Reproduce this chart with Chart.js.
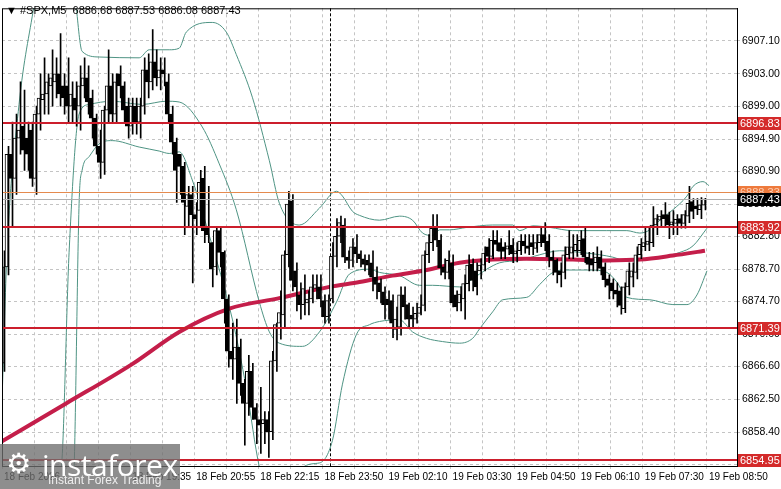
<!DOCTYPE html>
<html><head><meta charset="utf-8">
<script src="https://cdn.jsdelivr.net/npm/chart.js@4.4.1/dist/chart.umd.min.js"></script>
<style>
html,body{margin:0;padding:0;background:#fff;}
#wrap{position:relative;width:781px;height:489px;overflow:hidden;font-family:'Liberation Sans',Arial,sans-serif;}
#hdr{position:absolute;left:6px;top:4px;font-size:11px;color:#000;}
#logo{position:absolute;left:0;top:444px;width:180px;height:45px;background:rgba(110,110,110,0.78);color:#fff;white-space:nowrap;}
#logo .gear{position:absolute;left:6px;top:3px;font-size:28px;font-family:'DejaVu Sans';}
#logo .big{position:absolute;left:42px;top:0px;font-size:30px;letter-spacing:-0.5px;font-family:'Open Sans','Liberation Sans',sans-serif;}
#logo .small{position:absolute;left:48px;top:29px;font-size:12px;color:#eee;}
</style></head><body>
<div id="wrap">
<canvas id="c" width="781" height="489"></canvas>
<div id="hdr">▼ #SPX,M5&nbsp; 6886.68 6887.53 6886.08 6887.43</div>
<div id="logo"><span class="gear">⚙</span><span class="big">instaforex</span><span class="small">Instant Forex Trading</span></div>
</div>
<script>
const opens=[6867,6879,6893,6890,6895,6896.5,6895,6896,6890,6898,6899.8,6900.5,6901.5,6902,6903,6901.5,6901.5,6899,6900,6899,6901.5,6902.5,6900,6897.5,6894,6892,6898.5,6901.5,6898,6903,6901.5,6899,6896.5,6899,6897,6899,6903.5,6902,6904.5,6902.5,6903.5,6902,6898,6894.5,6893,6891.5,6886.5,6888,6885.5,6886,6890,6884,6882,6879,6883.5,6880.8,6875,6868.5,6867.5,6869,6864.5,6862,6866,6861.5,6860,6859.5,6860,6858.5,6867.3,6872,6873,6880.5,6887.2,6878.5,6875.5,6874.3,6874.5,6875,6876.3,6876.5,6874.8,6872.8,6875,6880.3,6882.8,6884.2,6880.2,6879.8,6881.5,6880.6,6880,6879.8,6879.5,6877.7,6877,6875.9,6875,6874.8,6871.2,6871.5,6875.5,6874.3,6873,6872.5,6873.2,6874.2,6880.5,6882,6883.8,6882.3,6879,6878.3,6879.5,6875.5,6874.5,6875,6876.9,6879.3,6878.5,6878.5,6879.2,6881.5,6880.3,6882.3,6882,6881.5,6881.2,6881.7,6880.6,6881,6882.2,6881.6,6882,6881.3,6882,6883,6882.2,6880.2,6879.8,6878.5,6878.3,6880.5,6880.7,6881,6881,6882.5,6880.2,6880,6879.5,6880.2,6879,6877.5,6877,6876.1,6876,6873.8,6876.5,6877.7,6878.3,6880.5,6881.5,6881.8,6882,6884.2,6884.8,6885.5,6885.5,6884.2,6884.4,6885,6884.4,6885.3,6887.1,6886.6,6886.1,6886.68];
const highs=[6881,6894,6897,6898,6902,6901,6897,6897,6899,6903,6905,6903,6906,6905,6908,6903,6905,6902,6902,6904,6905,6904,6901,6898,6896,6899,6906,6903,6903,6904,6902,6900,6900,6900,6900,6905,6905.5,6908.5,6906,6905,6905,6903,6899,6895,6893,6892,6889,6889,6887,6891,6891.5,6889,6882,6884,6884,6881,6875.5,6872,6872.5,6870,6865,6868,6867,6862,6864,6861,6861,6868.5,6872,6876,6881,6888.4,6888,6879.5,6877,6878,6876,6878,6878,6878,6875.5,6875.5,6882,6885,6885.3,6885,6881,6882.5,6883,6881,6880.5,6880.5,6881,6879,6877.5,6876.5,6876,6875.5,6874,6876.5,6876.5,6874.5,6874,6874.5,6875.5,6881,6883,6885.5,6885.5,6883,6880,6881,6880.5,6876,6876.5,6878,6880.5,6880,6879.5,6880,6881.5,6882.5,6883.5,6883.5,6882.5,6882,6883.5,6882.5,6882,6883,6883,6883,6883,6883,6884,6884.5,6883,6881,6880,6879.5,6881.5,6883.5,6883,6883,6883.5,6883.8,6880.8,6880.8,6881.5,6881,6879.5,6878,6877.5,6877,6876.5,6877,6879.5,6879.5,6881.5,6882.5,6884,6883.8,6886.5,6885.5,6886,6887,6885.8,6886,6885.5,6885.5,6886,6889,6887.5,6887.5,6887.6,6887.53];
const lows=[6866,6878,6884,6888,6893,6891,6891,6889,6888,6896,6898,6898,6899,6900,6899,6898,6897,6897,6896.5,6896,6900,6898,6895,6893,6890,6890.5,6897,6897,6897,6900,6897,6895,6895.5,6895.5,6895,6898,6900,6901,6901.5,6901,6901.5,6897,6893,6887,6888,6883,6884,6877,6883,6884,6882,6882,6876.5,6878,6879,6872,6866.5,6865,6862,6863,6856.8,6860.5,6860,6857,6855.8,6857,6855.3,6857.5,6866,6870,6871.5,6879,6876,6873.5,6872.5,6873,6873,6874.5,6875,6874,6872,6872,6874.5,6879,6882,6879.5,6878.8,6879,6879.5,6879,6878.5,6878,6876,6875,6874.5,6872.5,6872.5,6870.2,6869.9,6870.5,6872.5,6871.5,6871.3,6872,6873,6873.5,6879.5,6881,6881.5,6878,6877.5,6877.5,6874,6873.5,6873.5,6872.5,6876,6876,6875.5,6877.5,6878.5,6879.5,6880,6881,6880,6880,6880.5,6879.5,6879.6,6880.5,6880.7,6880.5,6880.5,6880.8,6881.5,6881,6879,6878,6877,6876.5,6877.5,6880,6880,6880.3,6880.5,6879.5,6878.5,6878.5,6878.5,6878,6876.5,6875,6875,6874,6873.1,6873.3,6875.5,6876.5,6877.5,6880,6881,6881,6881.5,6883,6884,6884,6882.5,6883,6883,6883.8,6883.8,6884.5,6885,6885.5,6885,6886.08];
const closes=[6879,6893,6890,6895,6896,6893.5,6893,6890,6898,6900,6900.5,6902,6902.5,6903,6900.5,6900,6899,6900.5,6898.5,6901.5,6902.5,6899.5,6897.5,6894,6892,6898.5,6901.5,6898,6902,6901.5,6898.5,6896.5,6899,6897,6899,6903.5,6902,6904.5,6902.5,6903.5,6903,6898,6894.5,6891,6891.5,6887,6888,6885.5,6885,6889.5,6883.5,6883,6878.7,6883.5,6880.8,6875,6868.5,6867.5,6869,6864.5,6862,6866,6861.5,6860,6859.3,6860,6858.5,6867.3,6871.8,6873.3,6880.5,6886.8,6877.3,6876.5,6874.3,6876.3,6875,6876.5,6876.8,6875,6872.8,6874.8,6880.3,6882.8,6884.5,6880.2,6879.8,6881.5,6880.6,6880,6879.3,6879.2,6877.7,6876.8,6875.9,6874.3,6874.3,6872,6872.5,6875.5,6874,6872.5,6872.5,6873.2,6874,6880.5,6882,6883.8,6882.3,6878.9,6878.3,6879.8,6874.5,6874,6875.6,6876.9,6879.2,6877.3,6876.5,6879.2,6880.7,6880.3,6882.3,6881.8,6880.9,6880.9,6881.6,6880.6,6881,6882.2,6881.6,6881.3,6881.5,6882,6883,6882,6880.2,6879.8,6878.3,6878,6880.5,6881.5,6881.5,6881.8,6882.3,6880.2,6879.3,6879.2,6880.2,6878.8,6877.4,6876.7,6876,6875.6,6874.2,6876.5,6878.5,6878.5,6880.5,6881.8,6882,6882.2,6884.2,6885,6885.3,6885,6884.2,6884.6,6884.9,6884.4,6885.5,6886.9,6885.9,6886.2,6886.7,6887.43];

// Indicator lines: [barIndex, price]
const bbUpper=[[-0.5,6862.3],[0.75,6880.8],[3.75,6899.2],[7.5,6911.5],[11,6922],[16,6922],[18,6911.5],[19.5,6905.8],[23.75,6905.1],[33.75,6905.0],[36.25,6906.0],[41.25,6906.0],[43.75,6906.2],[45.5,6908.2],[52,6909.4],[55.5,6908.2],[58,6905.4],[62,6900.1],[66.25,6892.2],[68.75,6886.9],[73.75,6884.2],[78.75,6886.3],[83,6888.4],[84.5,6887.8],[87,6885.9],[88.75,6885.4],[93.75,6884.8],[98.75,6885.3],[102,6884.8],[104.5,6883.2],[107,6882.9],[108.75,6883.6],[111.25,6883.6],[115.5,6883.9],[122,6884.2],[127,6884.2],[128.75,6883.5],[132,6884.1],[136.25,6883.9],[142,6883.5],[150.5,6883.5],[155.5,6883.5],[158.75,6883.2],[161.25,6883.6],[163.75,6884.8],[167,6886.1],[170.5,6887.8],[172,6889.0],[174.5,6889.6],[176,6889.1]];
const bbMiddle=[[-0.5,6845],[10,6850],[14.25,6853.8],[16.25,6880.8],[18.75,6898.0],[21.25,6899.2],[27,6899.6],[34.5,6899.2],[40.5,6899.6],[43.75,6899.5],[49.5,6896.4],[53.75,6891.8],[58,6886.1],[63.75,6874.6],[66.25,6870.9],[68.75,6869.5],[74.5,6869.1],[78.75,6870.9],[83,6874.6],[86.25,6878.1],[91.25,6878.7],[93.75,6878.3],[98.75,6877.9],[103.75,6876.7],[107,6876.7],[113.75,6876.5],[117,6877.5],[120.5,6878.7],[123.75,6879.5],[128.75,6879.8],[133.75,6880.5],[138.75,6881.0],[143.75,6880.8],[148.75,6880.5],[152,6880.2],[155.5,6879.7],[158.75,6879.9],[163.75,6880.2],[168.75,6880.8],[172,6881.6],[175.5,6883.8]];
const bbLower=[[-0.5,6830],[15,6840],[17.5,6853.8],[18.75,6886.9],[19.5,6891.0],[21.25,6892.7],[23.75,6894.3],[27,6894.7],[33.75,6893.9],[38.75,6893.4],[41.25,6893.1],[43.75,6893.3],[47,6889.8],[51.25,6882.9],[57,6872.5],[60.5,6863.9],[63.75,6854.1],[68,6848],[73,6848],[74.5,6854.0],[78.75,6854.6],[82,6857.4],[84.5,6864.4],[88,6870.6],[91.25,6871.8],[93.75,6872.2],[98.75,6872.4],[102,6870.9],[105.5,6870.1],[109.5,6869.7],[113.75,6869.5],[117,6870.1],[118.75,6871.3],[122,6873.4],[124.5,6874.9],[130.5,6875.2],[133.75,6876.8],[137,6878.3],[140.5,6878.6],[146.25,6878.6],[150.5,6878.3],[153,6877.1],[155.5,6875.2],[161.25,6874.9],[167,6874.3],[170.5,6874.3],[173,6875.5],[175.5,6878.5]];
const maLine=[[-0.5,6857.3],[15.5,6862.0],[32,6866.9],[43.75,6870.9],[56.25,6873.8],[68.75,6875.1],[81.25,6876.5],[88.75,6877.1],[97,6877.9],[105.5,6878.6],[113.75,6879.5],[122,6879.9],[130.5,6880.0],[142,6879.9],[150.5,6879.8],[158.75,6879.9],[167,6880.4],[175,6881.0]];

const yTicks=[6907.10,6903.00,6899.00,6894.90,6890.90,6886.80,6882.80,6878.70,6874.70,6870.60,6866.60,6862.50,6858.40,6854.40];
const xTickPos=[-0.5,7.5,15.5,23.5,31.5,39.5,47.5,55.5,63.5,71.5,79.5,87.5,95.5,103.5,111.5,119.5,127.5,135.5,143.5,151.5,159.5,167.5,175.5];
const xTickLabels={'-0.5':'18 Feb 2026','31.5':'18 Feb 19:35','47.5':'18 Feb 20:55','63.5':'18 Feb 22:15','79.5':'18 Feb 23:50','95.5':'19 Feb 02:10','111.5':'19 Feb 03:30','127.5':'19 Feb 04:50','143.5':'19 Feb 06:10','159.5':'19 Feb 07:30','175.5':'19 Feb 08:50'};
const levels=[
 {v:6896.83,color:'#cc1e2c',w:2,label:'6896.83',bg:'#d42a2a',fg:'#fff'},
 {v:6888.33,color:'#e58a4e',w:1,label:'6888.33',bg:'#ee7a3c',fg:'#fbd0b8'},
 {v:6887.43,color:'#b0b0b0',w:1,label:'6887.43',bg:'#000',fg:'#fff'},
 {v:6883.92,color:'#cc1e2c',w:2,label:'6883.92',bg:'#d42a2a',fg:'#fff'},
 {v:6871.39,color:'#cc1e2c',w:2,label:'6871.39',bg:'#d42a2a',fg:'#fff'},
 {v:6854.95,color:'#cc1e2c',w:2,label:'6854.95',bg:'#d42a2a',fg:'#fff'}
];
const separatorAt=81.5;

const bodies=opens.map((o,i)=>({x:i,y:[o,closes[i]]}));
const wicks=lows.map((l,i)=>({x:i,y:[l,highs[i]]}));
const pts=a=>a.map(p=>({x:p[0],y:p[1]}));

const overlay={
 id:'overlay',
 beforeDatasetsDraw(ch){
  const {ctx,chartArea:a,scales:{x}}=ch;
  ctx.save();ctx.strokeStyle='#000';ctx.lineWidth=1;ctx.setLineDash([3,2]);
  const px=Math.round(x.getPixelForValue(separatorAt))+0.5;
  ctx.beginPath();ctx.moveTo(px,a.top);ctx.lineTo(px,a.bottom);ctx.stroke();
  ctx.restore();
 },
 afterDatasetsDraw(ch){
  const {ctx,chartArea:a,scales:{y}}=ch;
  ctx.save();
  ctx.beginPath();ctx.rect(a.left,a.top,a.right-a.left,a.bottom-a.top);ctx.clip();
  levels.forEach(l=>{
   const py=y.getPixelForValue(l.v);
   const yy=l.w===1?Math.round(py)+0.5:Math.round(py);
   ctx.strokeStyle=l.color;ctx.lineWidth=l.w;
   ctx.beginPath();ctx.moveTo(a.left,yy);ctx.lineTo(a.right,yy);ctx.stroke();
  });
  ctx.restore();
 },
 afterDraw(ch){
  const {ctx,chartArea:a,scales:{y}}=ch;
  ctx.save();
  ctx.strokeStyle='#000';ctx.lineWidth=1;ctx.setLineDash([]);
  ctx.strokeRect(a.left+0.5,a.top+0.5,a.right-a.left,a.bottom-a.top);
  ctx.font='11px "Liberation Sans", Arial, sans-serif';ctx.textBaseline='middle';ctx.textAlign='left';
  levels.forEach(l=>{
   const py=Math.round(y.getPixelForValue(l.v));
   ctx.fillStyle=l.bg;ctx.fillRect(a.right+1,py-6,43,13);
   ctx.fillStyle=l.fg;ctx.fillText(l.label,a.right+3,py+1);
  });
  ctx.restore();
 }
};

const lineOpts={pointRadius:0,cubicInterpolationMode:'monotone'};
new Chart(document.getElementById('c'),{
 data:{datasets:[
  {type:'bar',data:bodies,order:0,barThickness:3,minBarLength:1,borderWidth:1,borderSkipped:false,borderColor:'#000',
   backgroundColor:c=>{const i=c.dataIndex;return closes[i]>=opens[i]?'#fff':'#000';}},
  {type:'bar',data:wicks,order:1,barThickness:1,backgroundColor:'#000',borderWidth:0},
  {type:'line',data:pts(maLine),order:2,borderColor:'#c41e4a',borderWidth:4,...lineOpts},
  {type:'line',data:pts(bbUpper),order:3,borderColor:'#4f9484',borderWidth:1,...lineOpts},
  {type:'line',data:pts(bbMiddle),order:3,borderColor:'#4f9484',borderWidth:1,...lineOpts},
  {type:'line',data:pts(bbLower),order:3,borderColor:'#4f9484',borderWidth:1,...lineOpts}
 ]},
 options:{
  responsive:false,animation:false,devicePixelRatio:1,
  layout:{padding:{left:2,top:2,right:0,bottom:0}},
  plugins:{legend:{display:false},tooltip:{enabled:false}},
  scales:{
   x:{type:'linear',min:-0.5,max:183,offset:false,
    afterBuildTicks:s=>{s.ticks=xTickPos.map(v=>({value:v}));},
    afterFit:s=>{s.height=23;},
    grid:{color:'#c4c4c4',tickLength:3,offset:false},
    border:{color:'#000',dash:[3,3]},
    ticks:{autoSkip:false,maxRotation:0,align:'start',padding:2,labelOffset:2,color:'#000',
     font:{family:'Liberation Sans',size:10},
     callback:v=>xTickLabels[String(v)]||''}
   },
   y:{type:'linear',position:'right',min:6854.22,max:6911.16,
    afterBuildTicks:s=>{s.ticks=yTicks.map(v=>({value:v}));},
    afterFit:s=>{s.width=44;},
    grid:{color:'#c4c4c4',tickLength:3},
    border:{color:'#000',dash:[3,3]},
    ticks:{padding:2,color:'#000',font:{family:'Liberation Sans',size:10.5},callback:v=>v.toFixed(2)}
   }
  }
 },
 plugins:[overlay]
});
</script>
</body></html>
